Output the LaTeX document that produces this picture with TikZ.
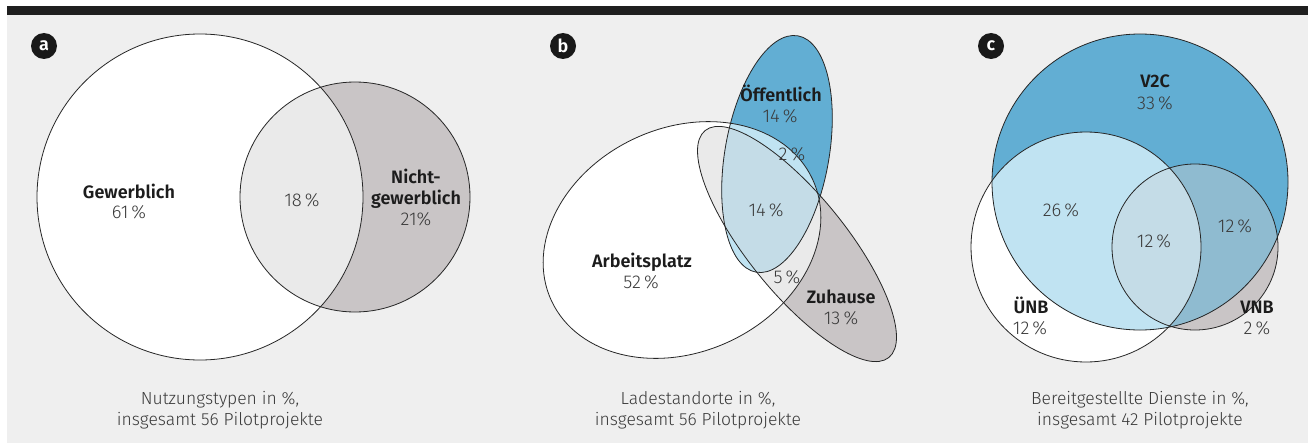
\documentclass[tikz,border=0pt]{standalone}
\usepackage{fontspec}
\setmainfont{Fira Sans Light}[BoldFont={Fira Sans SemiBold}]
\definecolor{bgc}{HTML}{EFEFEF}
\definecolor{greyc}{HTML}{C9C5C6}
\definecolor{lightg}{HTML}{EAEAEA}
\definecolor{blueA}{HTML}{62AED3}
\definecolor{cyanA}{HTML}{C0E3F2}
\definecolor{tripc}{HTML}{C4DCE7}
\definecolor{steelc}{HTML}{8FBBD0}
\definecolor{labelc}{HTML}{1C1C1C}
\definecolor{pctc}{HTML}{3A3A3A}
\begin{document}
\begin{tikzpicture}[x=1pt,y=-1pt,
  lbl/.style={font=\fontsize{18}{21}\selectfont\bfseries, text=labelc, inner sep=0pt, anchor=base},
  pct/.style={font=\fontsize{18.5}{21}\selectfont, text=pctc, inner sep=0pt, anchor=base},
  captxt/.style={font=\fontsize{17.5}{21}\selectfont, text=pctc, inner sep=0pt, anchor=base},
  badge/.style={circle, fill=black!90, text=white, minimum size=26pt, inner sep=0pt, font=\fontsize{18}{18}\selectfont\bfseries},
  outl/.style={draw=black!85, line width=0.8pt},
  arbT/.style={rotate around={25:(682,240)}},
  oefT/.style={rotate around={-10:(777,154)}},
  zuhT/.style={rotate around={-51:(797,244)}},
]
\useasboundingbox (0,0) rectangle (1308,444);
\fill[white] (0,0) rectangle (1308,444);
\fill[bgc] (7,15) rectangle (1308,443);
\fill[black!88] (7,6) rectangle (1308,15);

% ---------- panel a ----------
\fill[greyc] (355,197) circle [radius=115];
\fill[white] (200,197) circle [radius=163];
\begin{scope}
  \clip (200,197) circle [radius=163];
  \fill[lightg] (355,197) circle [radius=115];
\end{scope}
\draw[outl] (200,197) circle [radius=163];
\draw[outl] (355,197) circle [radius=115];
\node[badge] (ba) at (44,46) {a};
\node[lbl] (gew) at (129,198) {Gewerblich};
\node[pct] (gewp) at (129,218) {61\,\%};
\node[pct] (schn) at (302,206) {18\,\%};
\node[lbl] (nicht1) at (416,183) {Nicht-};
\node[lbl] (nicht2) at (416,204) {gewerblich};
\node[pct] (nichtp) at (416,225) {21\%};
\node[captxt] (capa1) at (220,404) {Nutzungstypen in \%,};
\node[captxt] (capa2) at (220,425) {insgesamt 56 Pilotprojekte};

% ---------- panel b ----------
\fill[greyc, zuhT] (797,244) ellipse [x radius=146, y radius=49];
\fill[white, arbT] (682,240) ellipse [x radius=144, y radius=112];
\begin{scope}
  \clip[arbT] (682,240) ellipse [x radius=144, y radius=112];
  \fill[lightg, zuhT] (797,244) ellipse [x radius=146, y radius=49];
\end{scope}
\fill[blueA, oefT] (777,154) ellipse [x radius=52, y radius=120];
\begin{scope}
  \clip[oefT] (777,154) ellipse [x radius=52, y radius=120];
  \fill[cyanA, arbT] (682,240) ellipse [x radius=144, y radius=112];
  \clip[arbT] (682,240) ellipse [x radius=144, y radius=112];
  \fill[tripc, zuhT] (797,244) ellipse [x radius=146, y radius=49];
\end{scope}
\draw[outl, arbT] (682,240) ellipse [x radius=144, y radius=112];
\draw[outl, oefT] (777,154) ellipse [x radius=52, y radius=120];
\draw[outl, zuhT] (797,244) ellipse [x radius=146, y radius=49];
\node[badge] (bb) at (563,46) {b};
\node[lbl] (oef) at (781,101) {Öffentlich};
\node[pct] (oefp) at (780,122) {14\,\%};
\node[pct] (zwei) at (792,160) {2\,\%};
\node[pct] (mitte) at (766,216) {14\,\%};
\node[lbl] (arb) at (642,267) {Arbeitsplatz};
\node[pct] (arbp) at (641,288) {52\,\%};
\node[pct] (fuenf) at (787,283) {5\,\%};
\node[lbl] (zuh) at (841,303) {Zuhause};
\node[pct] (zuhp) at (841,324) {13\,\%};
\node[captxt] (capb1) at (698,404) {Ladestandorte in \%,};
\node[captxt] (capb2) at (698,425) {insgesamt 56 Pilotprojekte};

% ---------- panel c ----------
\fill[greyc] (1195,247) circle [radius=83];
\fill[white] (1086,247) circle [radius=115];
\fill[blueA] (1140,182) circle [radius=148];
\begin{scope}
  \clip (1140,182) circle [radius=148];
  \fill[cyanA] (1086,247) circle [radius=115];
  \fill[steelc] (1195,247) circle [radius=83];
  \clip (1086,247) circle [radius=115];
  \fill[tripc] (1195,247) circle [radius=83];
\end{scope}
\draw[outl] (1140,182) circle [radius=148];
\draw[outl] (1086,247) circle [radius=115];
\draw[outl] (1195,247) circle [radius=83];
\node[badge] (bc) at (991,46) {c};
\node[lbl] (vzc) at (1155,88) {V2C};
\node[pct] (vzcp) at (1155,109) {33\,\%};
\node[pct] (sechs) at (1061,216) {26\,\%};
\node[pct] (zwoelfm) at (1154,247) {12\,\%};
\node[pct] (zwoelfr) at (1235,232) {12\,\%};
\node[lbl] (unb) at (1031,313) {ÜNB};
\node[pct] (unbp) at (1030,334) {12\,\%};
\node[lbl] (vnb) at (1257,313) {VNB};
\node[pct] (vnbp) at (1257,334) {2\,\%};
\node[captxt] (capc1) at (1140,404) {Bereitgestellte Dienste in \%,};
\node[captxt] (capc2) at (1140,425) {insgesamt 42 Pilotprojekte};
\end{tikzpicture}
\end{document}
